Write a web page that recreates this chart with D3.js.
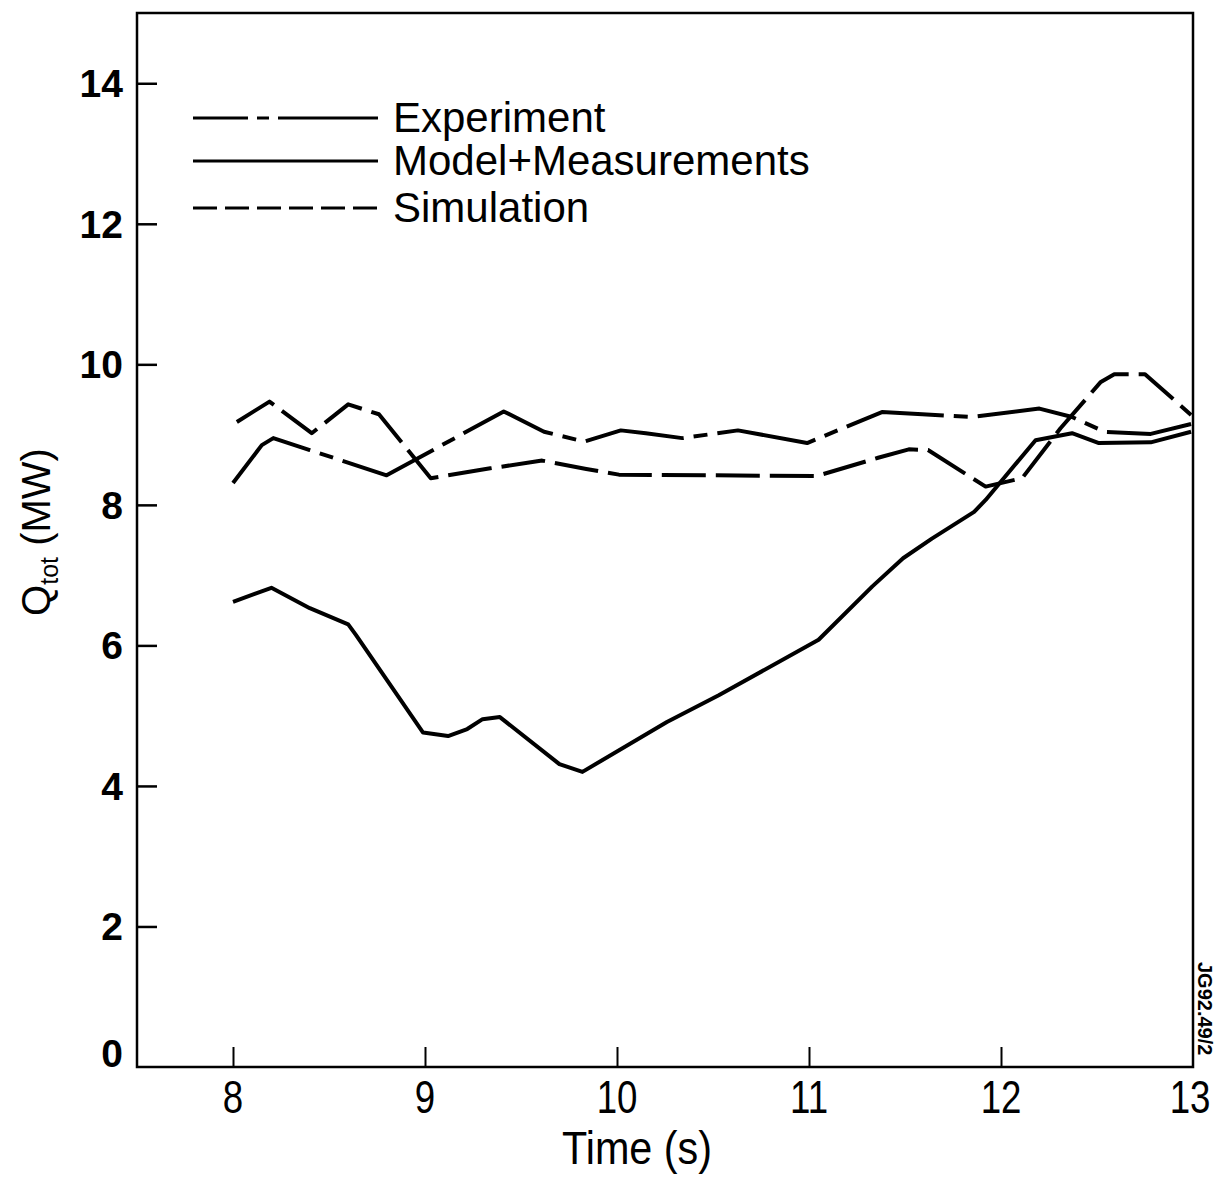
<!DOCTYPE html>
<html>
<head>
<meta charset="utf-8">
<script src="https://cdn.jsdelivr.net/npm/d3@7"></script>
<style>
  html, body { margin: 0; padding: 0; background: #fff; }
  svg { display: block; }
</style>
</head>
<body>
<svg id="chart" width="1221" height="1187"></svg>
<script>
// ---- data ----
const modelTime = [8.00, 8.20, 8.40, 8.60, 8.64, 8.99, 9.12, 9.22, 9.30, 9.39, 9.70, 9.82, 10.26, 10.53, 11.05, 11.33, 11.49, 11.64, 11.86, 11.92, 12.18, 12.37, 12.51, 12.78, 12.99];
const modelQ    = [6.62, 6.82, 6.53, 6.30, 6.15, 4.76, 4.71, 4.81, 4.95, 4.98, 4.31, 4.20, 4.91, 5.29, 6.08, 6.84, 7.24, 7.52, 7.90, 8.07, 8.92, 9.02, 8.88, 8.89, 9.04];

const expTime = [8.00, 8.15, 8.21, 8.40, 8.80, 9.41, 9.62, 9.83, 10.02, 10.15, 10.34, 10.63, 10.99, 11.38, 11.59, 11.85, 12.20, 12.37, 12.54, 12.78, 12.99];
const expQ    = [8.31, 8.85, 8.95, 8.78, 8.42, 9.33, 9.04, 8.90, 9.06, 9.02, 8.95, 9.06, 8.88, 9.32, 9.29, 9.25, 9.37, 9.25, 9.04, 9.01, 9.15];

const simTime = [8.02, 8.19, 8.41, 8.60, 8.76, 9.03, 9.34, 9.61, 9.84, 10.01, 11.04, 11.36, 11.52, 11.62, 11.92, 12.11, 12.31, 12.52, 12.59, 12.75, 12.99];
const simQ    = [9.18, 9.47, 9.02, 9.43, 9.29, 8.38, 8.52, 8.63, 8.51, 8.43, 8.41, 8.67, 8.79, 8.78, 8.26, 8.38, 9.09, 9.75, 9.86, 9.86, 9.28];

const xTicks = [8, 9, 10, 11, 12, 13];
const yTicks = [0, 2, 4, 6, 8, 10, 12, 14];
const legendLabels = ["Experiment", "Model+Measurements", "Simulation"];

// ---- chart ----
const svg = d3.select("#chart");
const x = d3.scaleLinear().domain([7.5, 13]).range([137, 1193]);
const y = d3.scaleLinear().domain([0, 15]).range([1067, 13]);

const FONT = "'Liberation Sans', Arial, Helvetica, sans-serif";

// frame
svg.append("rect")
  .attr("x", x(7.5)).attr("y", y(15))
  .attr("width", x(13) - x(7.5)).attr("height", y(0) - y(15))
  .attr("fill", "none").attr("stroke", "#000").attr("stroke-width", 2.5);

// y axis (ticks inward)
const yAxis = d3.axisRight(y).tickValues(yTicks).tickSize(20).tickFormat("");
const yg = svg.append("g").attr("transform", `translate(${x(7.5)},0)`).call(yAxis);
yg.select(".domain").remove();
yg.selectAll(".tick line").attr("stroke", "#000").attr("stroke-width", 2.5)
  .filter(d => d === 0).remove();

svg.append("g").selectAll("text").data(yTicks).join("text")
  .attr("x", 123).attr("y", d => y(d) + 14 - (d === 0 ? 14 : 0))
  .attr("text-anchor", "end")
  .attr("font-family", FONT).attr("font-weight", "bold").attr("font-size", 39)
  .text(d => d);

// x axis (ticks inward)
const xAxis = d3.axisTop(x).tickValues(xTicks.filter(d => d < 13)).tickSize(20).tickFormat("");
const xg = svg.append("g").attr("transform", `translate(0,${y(0)})`).call(xAxis);
xg.select(".domain").remove();
xg.selectAll(".tick line").attr("stroke", "#000").attr("stroke-width", 2);

svg.append("g").selectAll("text").data(xTicks).join("text")
  .attr("transform", d => `translate(${x(d) - (d === 13 ? 3 : 0)},1113) scale(0.78,1)`)
  .attr("text-anchor", "middle")
  .attr("font-family", FONT).attr("font-size", 47)
  .text(d => d);

// axis titles
svg.append("text")
  .attr("transform", "translate(637,1164) scale(0.88,1)")
  .attr("text-anchor", "middle")
  .attr("font-family", FONT).attr("font-size", 47)
  .text("Time (s)");

const yt = svg.append("text")
  .attr("transform", "translate(50,532) rotate(-90)")
  .attr("text-anchor", "middle")
  .attr("font-family", FONT).attr("font-size", 40);
yt.append("tspan").text("Q");
yt.append("tspan").attr("font-size", 25).attr("dy", 8).text("tot");
yt.append("tspan").attr("dy", -8).text(" (MW)");

// code label
svg.append("text")
  .attr("transform", "translate(1198,962) rotate(90)")
  .attr("font-family", FONT).attr("font-weight", "bold").attr("font-size", 20)
  .text("JG92.49/2");

// lines
const line = d3.line().x(d => x(d[0])).y(d => y(d[1]));
const series = [
  { t: expTime, q: expQ, dash: "100,10,14,10" },
  { t: modelTime, q: modelQ, dash: null },
  { t: simTime, q: simQ, dash: "44,10" }
];
series.forEach(s => {
  svg.append("path")
    .datum(s.t.map((t, i) => [t, s.q[i]]))
    .attr("d", line)
    .attr("fill", "none").attr("stroke", "#000").attr("stroke-width", 4)
    .attr("stroke-linejoin", "round")
    .attr("stroke-dasharray", s.dash);
});

// legend
const legendY = [118, 161, 208];
const legendDash = ["55,9,12,9,200", null, "24,8"];
const lg = svg.append("g");
legendLabels.forEach((lab, i) => {
  lg.append("line")
    .attr("x1", 193).attr("x2", 378)
    .attr("y1", legendY[i]).attr("y2", legendY[i])
    .attr("stroke", "#000").attr("stroke-width", 3)
    .attr("stroke-dasharray", legendDash[i]);
  lg.append("text")
    .attr("x", 393).attr("y", legendY[i] + 14)
    .attr("font-family", FONT).attr("font-size", 42)
    .text(lab);
});
</script>
</body>
</html>
